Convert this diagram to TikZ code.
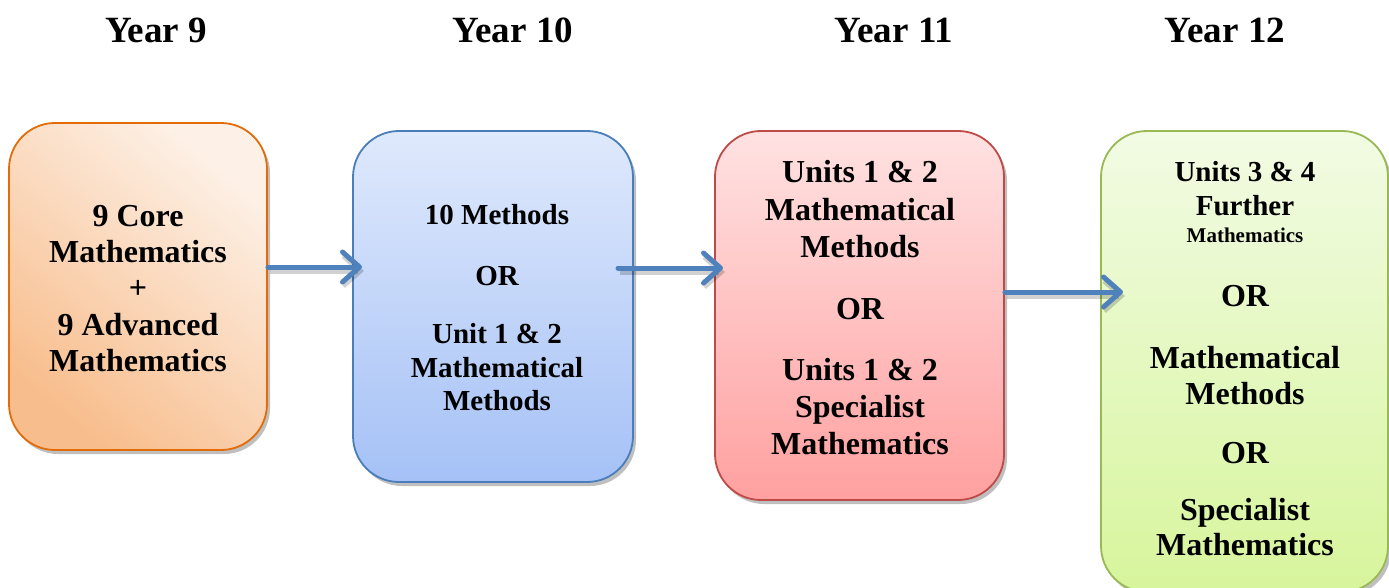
\documentclass[tikz,border=0pt]{standalone}
\usepackage{fontspec}
\setmainfont{Liberation Serif}
\usetikzlibrary{arrows.meta,shadows}
\definecolor{orL}{HTML}{FDF1E7}
\definecolor{orD}{HTML}{F8BD8C}
\definecolor{orS}{HTML}{E36C09}
\definecolor{blL}{HTML}{DFE9FC}
\definecolor{blD}{HTML}{A5C1F6}
\definecolor{blS}{HTML}{4A7EBB}
\definecolor{rdL}{HTML}{FFE2E2}
\definecolor{rdD}{HTML}{FFA0A0}
\definecolor{rdS}{HTML}{BE4B48}
\definecolor{grL}{HTML}{F2FBE4}
\definecolor{grD}{HTML}{D7F59C}
\definecolor{grS}{HTML}{98B954}
\definecolor{arr}{HTML}{4F81BD}
\begin{document}
\begin{tikzpicture}[x=1pt,y=-1pt,
  box/.style={draw, line width=1.8pt, rounded corners=46pt, inner sep=0pt,
    drop shadow={shadow xshift=3pt, shadow yshift=-4pt, fill=black, opacity=0.25}},
  yearlbl/.style={anchor=base, inner sep=0pt, font=\fontsize{37}{40}\selectfont\bfseries},
  txt/.style={anchor=base, inner sep=0pt, font=\fontsize{32}{36}\selectfont\bfseries},
  txtb/.style={anchor=base, inner sep=0pt, font=\fontsize{29}{33}\selectfont\bfseries},
  txts/.style={anchor=base, inner sep=0pt, font=\fontsize{21}{24}\selectfont\bfseries},
  flow/.style={draw=arr, line width=5pt, line cap=round,
    -{Straight Barb[length=17pt,width=30pt,round]}},
  flowshadow/.style={draw=black, opacity=0.18, line width=5pt,
    -{Straight Barb[length=17pt,width=30pt]},
    transform canvas={shift={(2pt,-4pt)}}}]
\path[use as bounding box] (0,0) rectangle (1389,588);
\fill[white] (0,0) rectangle (1389,588);
\clip (0,0) rectangle (1389,588);

% year headings
\node[yearlbl] (y9)  at (156,43)  {Year 9};
\node[yearlbl] (y10) at (513,43)  {Year 10};
\node[yearlbl] (y11) at (894,43)  {Year 11};
\node[yearlbl] (y12) at (1225,43) {Year 12};

% boxes
\node[box, draw=orS, top color=orL, bottom color=orD, shading angle=-40,
      minimum width=258pt, minimum height=327pt] (b1) at (138,286.5) {};
\node[box, draw=blS, top color=blL, bottom color=blD,
      minimum width=280pt, minimum height=351pt] (b2) at (493,306.5) {};
\node[box, draw=rdS, top color=rdL, bottom color=rdD,
      minimum width=289pt, minimum height=369pt] (b3) at (859.5,315.5) {};
\node[box, draw=grS, top color=grL, bottom color=grD,
      minimum width=287pt, minimum height=461pt] (b4) at (1244.5,361.5) {};

% box texts
\foreach \t/\y [count=\i] in {9 Core/226, Mathematics/262, +/298, 9 Advanced/335, Mathematics/371}
  \node[txt] (ta\i) at (138,\y) {\t};
\foreach \t/\y [count=\i] in {10 Methods/225, OR/285, {Unit 1 \& 2}/343, Mathematical/377, Methods/410}
  \node[txtb] (tb\i) at (497,\y) {\t};
\foreach \t/\y [count=\i] in {{Units 1 \& 2}/183, Mathematical/220, Methods/257, OR/319, {Units 1 \& 2}/380, Specialist/417, Mathematics/454}
  \node[txt] (tc\i) at (860,\y) {\t};
\node[txtb] (td1) at (1245,182) {Units 3 \& 4};
\node[txtb] (td2) at (1245,215) {Further};
\node[txts] (td3) at (1245,242) {Mathematics};
\foreach \t/\y [count=\i from 4] in {OR/306, Mathematical/368, Methods/404, OR/463, Specialist/520, Mathematics/555}
  \node[txt] (td\i) at (1245,\y) {\t};

% connector ends
\coordinate (a1s) at (b1.east |- 0,267);
\coordinate (a1e) at (362,267);
\coordinate (a2s) at (618,268);
\coordinate (a2e) at (723,268);
\coordinate (a3s) at (b3.east |- 0,292);
\coordinate (a3e) at (1123,292);

\draw[flowshadow] (a1s) -- (a1e);
\draw[flowshadow] (a2s) -- (a2e);
\draw[flowshadow] (a3s) -- (a3e);
\draw[flow] (a1s) -- (a1e);
\draw[flow] (a2s) -- (a2e);
\draw[flow] (a3s) -- (a3e);
\end{tikzpicture}
\end{document}
